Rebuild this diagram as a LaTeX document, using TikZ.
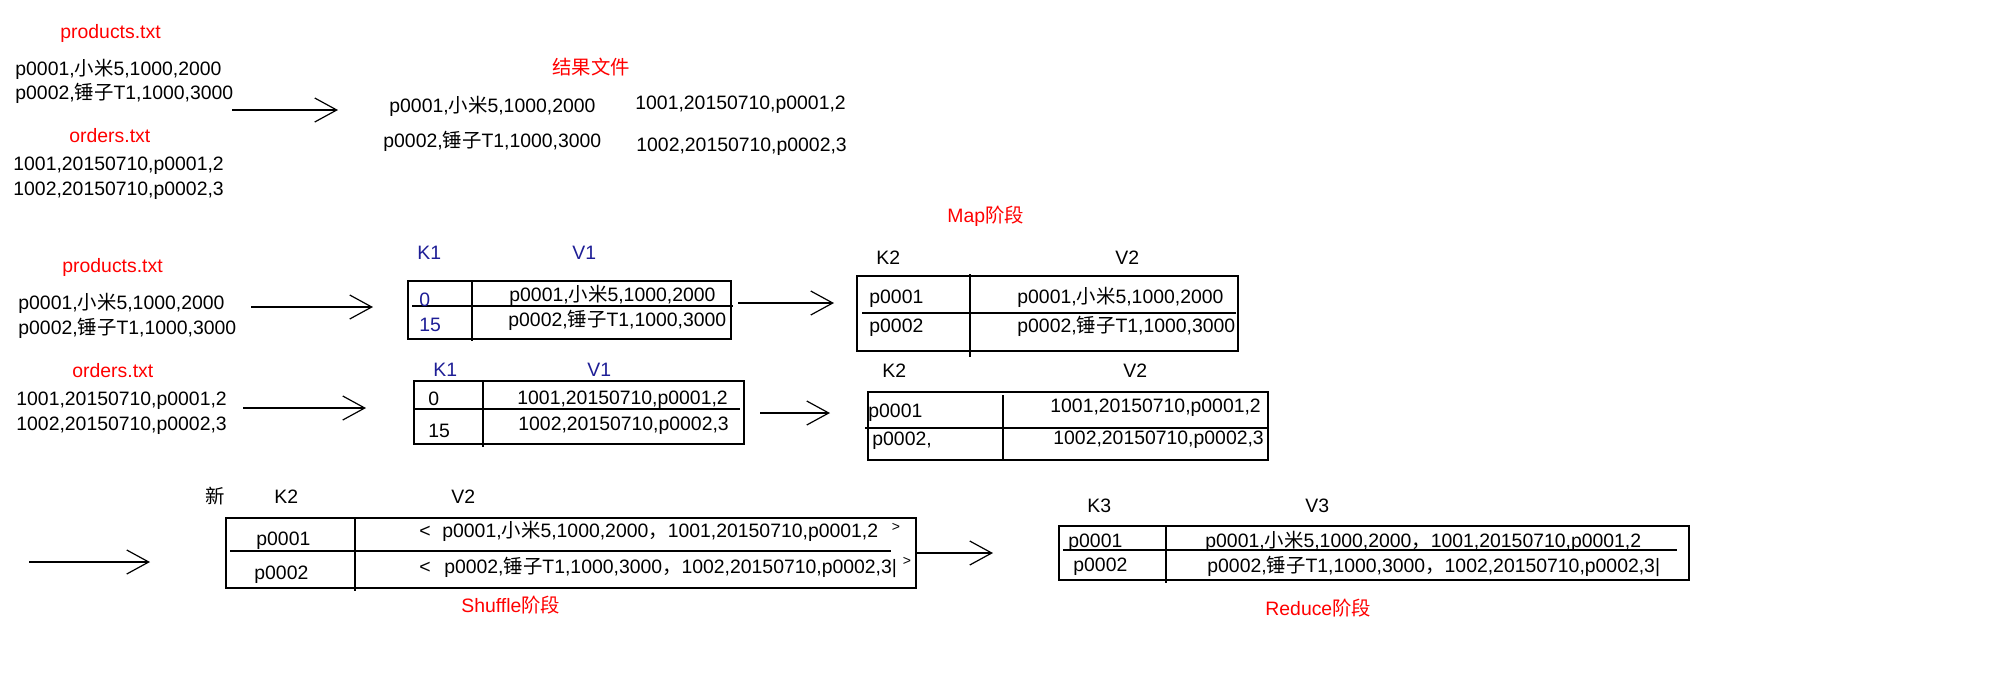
\documentclass[tikz,border=0pt]{standalone}
\usepackage{fontspec}
\setmainfont{Liberation Sans}
\newfontfamily\cjk{Noto Sans CJK SC}
\usepackage{tikz}
\usetikzlibrary{positioning,arrows.meta,fit}
\usepackage{xcolor}
\definecolor{kvblue}{RGB}{30,30,150}
\newcommand{\zh}[1]{{\cjk #1}}

\begin{document}
\begin{tikzpicture}[
  x=0.5pt, y=-0.5pt,
  every node/.style={font=\fontsize{9.7pt}{11pt}\selectfont},
  txt/.style={anchor=west, inner sep=0pt, text height=7pt, text depth=0pt},
  file/.style={txt, text=red},
  kv/.style={txt, text=kvblue},
  tbl/.style={draw, line width=0.6pt, inner sep=0pt},
  rule/.style={line width=0.6pt},
  arr/.style={-{Straight Barb[length=11pt, width=12pt]}, line width=0.6pt},
]
  \useasboundingbox (0,0) rectangle (2005,681);
  \fill[white] (0,0) rectangle (2005,681);

  % input files and joined result
  \node[file] (prodA) at (60,31) {products.txt};
  \node[txt] (prodA1) at (15,68) {p0001,\zh{小米}5,1000,2000};
  \node[txt, below=12pt of prodA1.west, anchor=west] (prodA2) {p0002,\zh{锤子}T1,1000,3000};
  \node[file] (ordA) at (69,135) {orders.txt};
  \node[txt] (ordA1) at (13,163) {1001,20150710,p0001,2};
  \node[txt, below=12.5pt of ordA1.west, anchor=west] (ordA2) {1002,20150710,p0002,3};

  \node[file] (result) at (552,67) {\zh{结果文件}};
  \node[txt] (res1) at (389,105) {p0001,\zh{小米}5,1000,2000};
  \node[txt] (res2) at (383,140) {p0002,\zh{锤子}T1,1000,3000};
  \node[txt] (res3) at (635,102) {1001,20150710,p0001,2};
  \node[txt] (res4) at (636,144) {1002,20150710,p0002,3};

  \coordinate (a1s) at (232,110);
  \coordinate (a1e) at (338,110);
  \draw[arr] (a1s) -- (a1e);

  % Map
  \node[file] (mapst) at (947,215) {Map\zh{阶段}};
  \node[file] (prodB) at (62,265) {products.txt};
  \node[txt] (prodB1) at (18,302) {p0001,\zh{小米}5,1000,2000};
  \node[txt, below=12.5pt of prodB1.west, anchor=west] (prodB2) {p0002,\zh{锤子}T1,1000,3000};
  \node[file] (ordB) at (72,370) {orders.txt};
  \node[txt] (ordB1) at (16,398) {1001,20150710,p0001,2};
  \node[txt, below=12.5pt of ordB1.west, anchor=west] (ordB2) {1002,20150710,p0002,3};

  \coordinate (a2s) at (251,307);
  \coordinate (a2e) at (373,307);
  \draw[arr] (a2s) -- (a2e);
  \coordinate (a3s) at (243,408);
  \coordinate (a3e) at (366,408);
  \draw[arr] (a3s) -- (a3e);

  % K1 V1 of products
  \node[kv] (k1a) at (417,252) {K1};
  \node[kv] (v1a) at (572,252) {V1};
  \node[tbl, fit={(408,281) (731,339)}] (tb1) {};
  \draw[rule] (472,280) -- (472,341);
  \draw[rule] (412,306) -- (733,306);
  \node[kv] (k1a1) at (419,299) {0};
  \node[kv] (k1a2) at (419,324) {15};
  \node[txt] (v1a1) at (509,294) {p0001,\zh{小米}5,1000,2000};
  \node[txt] (v1a2) at (508,319) {p0002,\zh{锤子}T1,1000,3000};

  % K1 V1 of orders
  \node[kv] (k1b) at (433,369) {K1};
  \node[kv] (v1b) at (587,369) {V1};
  \node[tbl, fit={(414,381) (744,444)}] (tb2) {};
  \draw[rule] (483,381) -- (483,447);
  \draw[rule] (414,409) -- (740,409);
  \node[txt] (k1b1) at (428,398) {0};
  \node[txt] (k1b2) at (428,430) {15};
  \node[txt] (v1b1) at (517,397) {1001,20150710,p0001,2};
  \node[txt] (v1b2) at (518,423) {1002,20150710,p0002,3};

  \coordinate (a4s) at (738,303);
  \coordinate (a4e) at (834,303);
  \draw[arr] (a4s) -- (a4e);
  \coordinate (a5s) at (760,413);
  \coordinate (a5e) at (830,413);
  \draw[arr] (a5s) -- (a5e);

  % K2 V2 of products
  \node[txt] (k2a) at (876,257) {K2};
  \node[txt] (v2a) at (1115,257) {V2};
  \node[tbl, fit={(857,276) (1238,351)}] (tb3) {};
  \draw[rule] (970,274) -- (970,357);
  \draw[rule] (862,313) -- (1236,313);
  \node[txt] (k2a1) at (869,296) {p0001};
  \node[txt] (k2a2) at (869,325) {p0002};
  \node[txt] (v2a1) at (1017,296) {p0001,\zh{小米}5,1000,2000};
  \node[txt] (v2a2) at (1017,325) {p0002,\zh{锤子}T1,1000,3000};

  % K2 V2 of orders
  \node[txt] (k2b) at (882,370) {K2};
  \node[txt] (v2b) at (1123,370) {V2};
  \node[tbl, fit={(868,392) (1268,460)}] (tb4) {};
  \draw[rule] (1003,395) -- (1003,460);
  \draw[rule] (865,428) -- (1267,428);
  \node[txt] (k2b1) at (868,410) {p0001};
  \node[txt] (k2b2) at (872,438) {p0002,};
  \node[txt] (v2b1) at (1050,405) {1001,20150710,p0001,2};
  \node[txt] (v2b2) at (1053,437) {1002,20150710,p0002,3};

  % Shuffle
  \coordinate (a6s) at (29,562);
  \coordinate (a6e) at (150,562);
  \draw[arr] (a6s) -- (a6e);
  \node[txt] (xin) at (205,496) {\zh{新}};
  \node[txt] (k2c) at (274,496) {K2};
  \node[txt] (v2c) at (451,496) {V2};
  \node[tbl, fit={(226,518) (916,588)}] (tb5) {};
  \draw[rule] (355,518) -- (355,591);
  \draw[rule] (230,551) -- (891,551);
  \node[txt] (k2c1) at (256,538) {p0001};
  \node[txt] (k2c2) at (254,572) {p0002};
  \node[txt] (v2c1) at (419,530)
    {<\hspace{0.6em}p0001,\zh{小米}5,1000,2000\zh{，}1001,20150710,p0001,2\hspace{0.7em}\raisebox{3pt}{\fontsize{7pt}{8pt}\selectfont>}};
  \node[txt] (v2c2) at (419,566)
    {<\hspace{0.7em}p0002,\zh{锤子}T1,1000,3000\zh{，}1002,20150710,p0002,3|\hspace{0.3em}\raisebox{4pt}{\fontsize{7pt}{8pt}\selectfont>}};
  \node[file] (shufst) at (461,605) {Shuffle\zh{阶段}};

  \coordinate (a7e) at (993,553);
  \draw[arr] (tb5.east) -- (a7e);

  % Reduce
  \node[txt] (k3) at (1087,505) {K3};
  \node[txt] (v3) at (1305,505) {V3};
  \node[tbl, fit={(1059,526) (1689,580)}] (tb6) {};
  \draw[rule] (1166,526) -- (1166,583);
  \draw[rule] (1063,550) -- (1677,550);
  \node[txt] (k31) at (1068,540) {p0001};
  \node[txt] (k32) at (1073,564) {p0002};
  \node[txt] (v31) at (1205,540) {p0001,\zh{小米}5,1000,2000\zh{，}1001,20150710,p0001,2};
  \node[txt] (v32) at (1207,565) {p0002,\zh{锤子}T1,1000,3000\zh{，}1002,20150710,p0002,3|};
  \node[file] (redst) at (1265,608) {Reduce\zh{阶段}};
\end{tikzpicture}
\end{document}
